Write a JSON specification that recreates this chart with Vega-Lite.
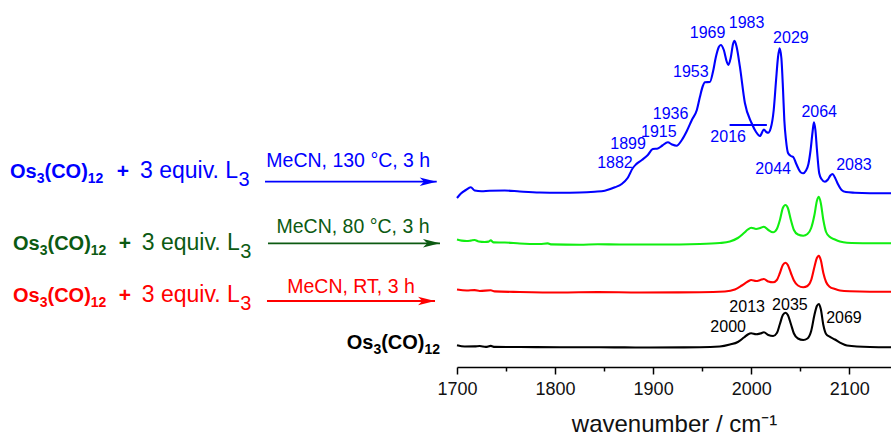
{
  "$schema": "https://vega.github.io/schema/vega-lite/v6.json",
  "description": "IR carbonyl spectra of Os3(CO)12 and its reactions with 3 equiv. L3 in MeCN, stacked with vertical offsets, with the reaction schemes to the left.",
  "padding": 0,
  "spacing": 0,
  "bounds": "flush",
  "background": "white",
  "config": {"view": {"stroke": null}, "font": "Liberation Sans"},
  "resolve": {"scale": {"x": "independent", "y": "independent", "color": "independent"}},
  "datasets": {
    "formulas": [
      {"scheme": "130C", "pos": 2.19, "level": 1.887},
      {"scheme": "80C", "pos": 2.84, "level": 1.17},
      {"scheme": "RT", "pos": 2.84, "level": 0.653},
      {"scheme": "ref", "pos": 75.86, "level": 0.177}
    ],
    "reagents": [
      {"scheme": "130C", "plus": 26.91, "reagent": 30.63, "level": 1.887},
      {"scheme": "80C", "plus": 27.35, "reagent": 31.01, "level": 1.17},
      {"scheme": "RT", "plus": 27.35, "reagent": 31.01, "level": 0.653}
    ],
    "conditions": [
      {"scheme": "130C", "pos": 76.21, "level": 1.997, "text": "MeCN, 130 °C, 3 h"},
      {"scheme": "80C", "pos": 77.24, "level": 1.337, "text": "MeCN, 80 °C, 3 h"},
      {"scheme": "RT", "pos": 76.81, "level": 0.737, "text": "MeCN, RT, 3 h"}
    ],
    "arrows": [
      {"scheme": "130C", "start": 57.99, "end": 95.56, "level": 1.853},
      {"scheme": "80C", "start": 58.64, "end": 96.28, "level": 1.237},
      {"scheme": "RT", "start": 58.42, "end": 95.19, "level": 0.66}
    ],
    "spectra": [
      {"series": "130C", "wavenumber": 1700, "signal": 1.69},
      {"series": "130C", "wavenumber": 1704, "signal": 1.735},
      {"series": "130C", "wavenumber": 1709, "signal": 1.77},
      {"series": "130C", "wavenumber": 1714, "signal": 1.797},
      {"series": "130C", "wavenumber": 1718, "signal": 1.765},
      {"series": "130C", "wavenumber": 1725, "signal": 1.757},
      {"series": "130C", "wavenumber": 1733.4, "signal": 1.763},
      {"series": "130C", "wavenumber": 1748.7, "signal": 1.765},
      {"series": "130C", "wavenumber": 1764, "signal": 1.755},
      {"series": "130C", "wavenumber": 1784.4, "signal": 1.745},
      {"series": "130C", "wavenumber": 1804.8, "signal": 1.743},
      {"series": "130C", "wavenumber": 1825.2, "signal": 1.745},
      {"series": "130C", "wavenumber": 1840.5, "signal": 1.753},
      {"series": "130C", "wavenumber": 1850.7, "signal": 1.763},
      {"series": "130C", "wavenumber": 1861, "signal": 1.797},
      {"series": "130C", "wavenumber": 1868, "signal": 1.83},
      {"series": "130C", "wavenumber": 1874, "signal": 1.89},
      {"series": "130C", "wavenumber": 1879.3, "signal": 1.99},
      {"series": "130C", "wavenumber": 1882.4, "signal": 2.025},
      {"series": "130C", "wavenumber": 1888.5, "signal": 2.07},
      {"series": "130C", "wavenumber": 1894.6, "signal": 2.12},
      {"series": "130C", "wavenumber": 1899.7, "signal": 2.18},
      {"series": "130C", "wavenumber": 1904.8, "signal": 2.185},
      {"series": "130C", "wavenumber": 1909.4, "signal": 2.215},
      {"series": "130C", "wavenumber": 1915, "signal": 2.247},
      {"series": "130C", "wavenumber": 1919.3, "signal": 2.225},
      {"series": "130C", "wavenumber": 1923.9, "signal": 2.213},
      {"series": "130C", "wavenumber": 1929.3, "signal": 2.27},
      {"series": "130C", "wavenumber": 1934.4, "signal": 2.36},
      {"series": "130C", "wavenumber": 1939.5, "signal": 2.47},
      {"series": "130C", "wavenumber": 1944.6, "signal": 2.57},
      {"series": "130C", "wavenumber": 1947.7, "signal": 2.7},
      {"series": "130C", "wavenumber": 1950.7, "signal": 2.81},
      {"series": "130C", "wavenumber": 1952.8, "signal": 2.847},
      {"series": "130C", "wavenumber": 1957.9, "signal": 2.85},
      {"series": "130C", "wavenumber": 1961, "signal": 2.95},
      {"series": "130C", "wavenumber": 1964, "signal": 3.1},
      {"series": "130C", "wavenumber": 1967, "signal": 3.2},
      {"series": "130C", "wavenumber": 1969, "signal": 3.22},
      {"series": "130C", "wavenumber": 1972.1, "signal": 3.17},
      {"series": "130C", "wavenumber": 1975.2, "signal": 3.05},
      {"series": "130C", "wavenumber": 1976.7, "signal": 3.02},
      {"series": "130C", "wavenumber": 1979.1, "signal": 3.09},
      {"series": "130C", "wavenumber": 1981.5, "signal": 3.23},
      {"series": "130C", "wavenumber": 1983, "signal": 3.263},
      {"series": "130C", "wavenumber": 1985.2, "signal": 3.2},
      {"series": "130C", "wavenumber": 1988.5, "signal": 3.003},
      {"series": "130C", "wavenumber": 1993.6, "signal": 2.64},
      {"series": "130C", "wavenumber": 2000.4, "signal": 2.44},
      {"series": "130C", "wavenumber": 2005, "signal": 2.35},
      {"series": "130C", "wavenumber": 2008.9, "signal": 2.31},
      {"series": "130C", "wavenumber": 2013, "signal": 2.375},
      {"series": "130C", "wavenumber": 2015.5, "signal": 2.35},
      {"series": "130C", "wavenumber": 2017.3, "signal": 2.343},
      {"series": "130C", "wavenumber": 2020, "signal": 2.39},
      {"series": "130C", "wavenumber": 2023, "signal": 2.57},
      {"series": "130C", "wavenumber": 2025.4, "signal": 2.87},
      {"series": "130C", "wavenumber": 2027.4, "signal": 3.1},
      {"series": "130C", "wavenumber": 2029, "signal": 3.187},
      {"series": "130C", "wavenumber": 2030.8, "signal": 3.09},
      {"series": "130C", "wavenumber": 2032.5, "signal": 2.77},
      {"series": "130C", "wavenumber": 2033.8, "signal": 2.47},
      {"series": "130C", "wavenumber": 2035.5, "signal": 2.27},
      {"series": "130C", "wavenumber": 2037.6, "signal": 2.14},
      {"series": "130C", "wavenumber": 2040.5, "signal": 2.11},
      {"series": "130C", "wavenumber": 2042.9, "signal": 2.1},
      {"series": "130C", "wavenumber": 2045.6, "signal": 2.04},
      {"series": "130C", "wavenumber": 2048, "signal": 1.987},
      {"series": "130C", "wavenumber": 2050.7, "signal": 1.945},
      {"series": "130C", "wavenumber": 2053.1, "signal": 1.937},
      {"series": "130C", "wavenumber": 2055.6, "signal": 1.96},
      {"series": "130C", "wavenumber": 2058.4, "signal": 2.03},
      {"series": "130C", "wavenumber": 2060.6, "signal": 2.17},
      {"series": "130C", "wavenumber": 2062.6, "signal": 2.35},
      {"series": "130C", "wavenumber": 2064, "signal": 2.447},
      {"series": "130C", "wavenumber": 2065.5, "signal": 2.37},
      {"series": "130C", "wavenumber": 2067.1, "signal": 2.17},
      {"series": "130C", "wavenumber": 2069.4, "signal": 1.937},
      {"series": "130C", "wavenumber": 2071.7, "signal": 1.88},
      {"series": "130C", "wavenumber": 2075.2, "signal": 1.853},
      {"series": "130C", "wavenumber": 2078.3, "signal": 1.875},
      {"series": "130C", "wavenumber": 2080.8, "signal": 1.915},
      {"series": "130C", "wavenumber": 2083, "signal": 1.93},
      {"series": "130C", "wavenumber": 2085.4, "signal": 1.895},
      {"series": "130C", "wavenumber": 2088.4, "signal": 1.83},
      {"series": "130C", "wavenumber": 2092.2, "signal": 1.77},
      {"series": "130C", "wavenumber": 2096.6, "signal": 1.75},
      {"series": "130C", "wavenumber": 2105.8, "signal": 1.743},
      {"series": "130C", "wavenumber": 2121.1, "signal": 1.738},
      {"series": "130C", "wavenumber": 2142.6, "signal": 1.737},

      {"series": "80C", "wavenumber": 1700, "signal": 1.275},
      {"series": "80C", "wavenumber": 1704.8, "signal": 1.264},
      {"series": "80C", "wavenumber": 1709.9, "signal": 1.26},
      {"series": "80C", "wavenumber": 1714, "signal": 1.264},
      {"series": "80C", "wavenumber": 1718, "signal": 1.27},
      {"series": "80C", "wavenumber": 1722.1, "signal": 1.255},
      {"series": "80C", "wavenumber": 1728.3, "signal": 1.25},
      {"series": "80C", "wavenumber": 1732.3, "signal": 1.254},
      {"series": "80C", "wavenumber": 1734.4, "signal": 1.266},
      {"series": "80C", "wavenumber": 1737.4, "signal": 1.246},
      {"series": "80C", "wavenumber": 1748.7, "signal": 1.245},
      {"series": "80C", "wavenumber": 1764, "signal": 1.235},
      {"series": "80C", "wavenumber": 1784.4, "signal": 1.23},
      {"series": "80C", "wavenumber": 1792.5, "signal": 1.236},
      {"series": "80C", "wavenumber": 1796.6, "signal": 1.226},
      {"series": "80C", "wavenumber": 1825.2, "signal": 1.222},
      {"series": "80C", "wavenumber": 1843.6, "signal": 1.228},
      {"series": "80C", "wavenumber": 1866, "signal": 1.225},
      {"series": "80C", "wavenumber": 1906.8, "signal": 1.225},
      {"series": "80C", "wavenumber": 1947.7, "signal": 1.23},
      {"series": "80C", "wavenumber": 1968, "signal": 1.24},
      {"series": "80C", "wavenumber": 1978.3, "signal": 1.255},
      {"series": "80C", "wavenumber": 1986.4, "signal": 1.29},
      {"series": "80C", "wavenumber": 1992.6, "signal": 1.34},
      {"series": "80C", "wavenumber": 1996.6, "signal": 1.375},
      {"series": "80C", "wavenumber": 2000, "signal": 1.393},
      {"series": "80C", "wavenumber": 2005, "signal": 1.38},
      {"series": "80C", "wavenumber": 2009.3, "signal": 1.39},
      {"series": "80C", "wavenumber": 2013, "signal": 1.403},
      {"series": "80C", "wavenumber": 2017.5, "signal": 1.37},
      {"series": "80C", "wavenumber": 2022.4, "signal": 1.347},
      {"series": "80C", "wavenumber": 2026.2, "signal": 1.38},
      {"series": "80C", "wavenumber": 2029.3, "signal": 1.47},
      {"series": "80C", "wavenumber": 2032.3, "signal": 1.59},
      {"series": "80C", "wavenumber": 2035, "signal": 1.62},
      {"series": "80C", "wavenumber": 2037.4, "signal": 1.59},
      {"series": "80C", "wavenumber": 2040.5, "signal": 1.47},
      {"series": "80C", "wavenumber": 2043.6, "signal": 1.37},
      {"series": "80C", "wavenumber": 2047.7, "signal": 1.325},
      {"series": "80C", "wavenumber": 2053.1, "signal": 1.313},
      {"series": "80C", "wavenumber": 2057.4, "signal": 1.33},
      {"series": "80C", "wavenumber": 2061.2, "signal": 1.39},
      {"series": "80C", "wavenumber": 2064.5, "signal": 1.52},
      {"series": "80C", "wavenumber": 2067, "signal": 1.66},
      {"series": "80C", "wavenumber": 2069, "signal": 1.703},
      {"series": "80C", "wavenumber": 2071, "signal": 1.64},
      {"series": "80C", "wavenumber": 2073.6, "signal": 1.47},
      {"series": "80C", "wavenumber": 2076.4, "signal": 1.35},
      {"series": "80C", "wavenumber": 2080, "signal": 1.303},
      {"series": "80C", "wavenumber": 2085.4, "signal": 1.275},
      {"series": "80C", "wavenumber": 2090.5, "signal": 1.255},
      {"series": "80C", "wavenumber": 2097.7, "signal": 1.243},
      {"series": "80C", "wavenumber": 2121.1, "signal": 1.238},
      {"series": "80C", "wavenumber": 2142.6, "signal": 1.237},

      {"series": "RT", "wavenumber": 1700, "signal": 0.775},
      {"series": "RT", "wavenumber": 1709.9, "signal": 0.765},
      {"series": "RT", "wavenumber": 1718, "signal": 0.769},
      {"series": "RT", "wavenumber": 1723.2, "signal": 0.76},
      {"series": "RT", "wavenumber": 1734.4, "signal": 0.767},
      {"series": "RT", "wavenumber": 1738.4, "signal": 0.756},
      {"series": "RT", "wavenumber": 1764, "signal": 0.75},
      {"series": "RT", "wavenumber": 1804.8, "signal": 0.745},
      {"series": "RT", "wavenumber": 1843.6, "signal": 0.749},
      {"series": "RT", "wavenumber": 1886.4, "signal": 0.745},
      {"series": "RT", "wavenumber": 1947.7, "signal": 0.747},
      {"series": "RT", "wavenumber": 1973.2, "signal": 0.755},
      {"series": "RT", "wavenumber": 1983.4, "signal": 0.775},
      {"series": "RT", "wavenumber": 1990.5, "signal": 0.815},
      {"series": "RT", "wavenumber": 1996.6, "signal": 0.855},
      {"series": "RT", "wavenumber": 2000, "signal": 0.87},
      {"series": "RT", "wavenumber": 2005, "signal": 0.86},
      {"series": "RT", "wavenumber": 2009.3, "signal": 0.87},
      {"series": "RT", "wavenumber": 2013, "signal": 0.88},
      {"series": "RT", "wavenumber": 2017.5, "signal": 0.855},
      {"series": "RT", "wavenumber": 2022.4, "signal": 0.847},
      {"series": "RT", "wavenumber": 2026.2, "signal": 0.87},
      {"series": "RT", "wavenumber": 2029.3, "signal": 0.94},
      {"series": "RT", "wavenumber": 2032.3, "signal": 1.02},
      {"series": "RT", "wavenumber": 2035, "signal": 1.043},
      {"series": "RT", "wavenumber": 2037.4, "signal": 1.02},
      {"series": "RT", "wavenumber": 2040.5, "signal": 0.94},
      {"series": "RT", "wavenumber": 2043.6, "signal": 0.865},
      {"series": "RT", "wavenumber": 2047.7, "signal": 0.815},
      {"series": "RT", "wavenumber": 2053.1, "signal": 0.797},
      {"series": "RT", "wavenumber": 2057.4, "signal": 0.81},
      {"series": "RT", "wavenumber": 2061.2, "signal": 0.87},
      {"series": "RT", "wavenumber": 2064.5, "signal": 1.0},
      {"series": "RT", "wavenumber": 2067, "signal": 1.09},
      {"series": "RT", "wavenumber": 2069, "signal": 1.113},
      {"series": "RT", "wavenumber": 2071, "signal": 1.07},
      {"series": "RT", "wavenumber": 2073.6, "signal": 0.94},
      {"series": "RT", "wavenumber": 2076.4, "signal": 0.85},
      {"series": "RT", "wavenumber": 2080, "signal": 0.803},
      {"series": "RT", "wavenumber": 2085.4, "signal": 0.78},
      {"series": "RT", "wavenumber": 2090.5, "signal": 0.765},
      {"series": "RT", "wavenumber": 2100.7, "signal": 0.757},
      {"series": "RT", "wavenumber": 2121.1, "signal": 0.753},
      {"series": "RT", "wavenumber": 2142.6, "signal": 0.753},

      {"series": "ref", "wavenumber": 1700, "signal": 0.218},
      {"series": "ref", "wavenumber": 1707.9, "signal": 0.205},
      {"series": "ref", "wavenumber": 1718, "signal": 0.206},
      {"series": "ref", "wavenumber": 1723.2, "signal": 0.21},
      {"series": "ref", "wavenumber": 1729.3, "signal": 0.201},
      {"series": "ref", "wavenumber": 1734.4, "signal": 0.211},
      {"series": "ref", "wavenumber": 1738.4, "signal": 0.201},
      {"series": "ref", "wavenumber": 1764, "signal": 0.2},
      {"series": "ref", "wavenumber": 1804.8, "signal": 0.197},
      {"series": "ref", "wavenumber": 1845.6, "signal": 0.197},
      {"series": "ref", "wavenumber": 1896.6, "signal": 0.195},
      {"series": "ref", "wavenumber": 1947.7, "signal": 0.197},
      {"series": "ref", "wavenumber": 1968, "signal": 0.205},
      {"series": "ref", "wavenumber": 1978.3, "signal": 0.225},
      {"series": "ref", "wavenumber": 1986.4, "signal": 0.25},
      {"series": "ref", "wavenumber": 1992.6, "signal": 0.295},
      {"series": "ref", "wavenumber": 1996.6, "signal": 0.325},
      {"series": "ref", "wavenumber": 2000, "signal": 0.337},
      {"series": "ref", "wavenumber": 2005, "signal": 0.327},
      {"series": "ref", "wavenumber": 2009.3, "signal": 0.335},
      {"series": "ref", "wavenumber": 2013, "signal": 0.347},
      {"series": "ref", "wavenumber": 2017.5, "signal": 0.32},
      {"series": "ref", "wavenumber": 2022.4, "signal": 0.31},
      {"series": "ref", "wavenumber": 2026.2, "signal": 0.34},
      {"series": "ref", "wavenumber": 2029.3, "signal": 0.43},
      {"series": "ref", "wavenumber": 2032.3, "signal": 0.52},
      {"series": "ref", "wavenumber": 2035, "signal": 0.543},
      {"series": "ref", "wavenumber": 2037.4, "signal": 0.52},
      {"series": "ref", "wavenumber": 2040.5, "signal": 0.43},
      {"series": "ref", "wavenumber": 2043.6, "signal": 0.335},
      {"series": "ref", "wavenumber": 2047.7, "signal": 0.285},
      {"series": "ref", "wavenumber": 2053.1, "signal": 0.27},
      {"series": "ref", "wavenumber": 2057.4, "signal": 0.285},
      {"series": "ref", "wavenumber": 2061.2, "signal": 0.36},
      {"series": "ref", "wavenumber": 2064.5, "signal": 0.52},
      {"series": "ref", "wavenumber": 2067, "signal": 0.61},
      {"series": "ref", "wavenumber": 2069, "signal": 0.63},
      {"series": "ref", "wavenumber": 2071, "signal": 0.58},
      {"series": "ref", "wavenumber": 2073.6, "signal": 0.42},
      {"series": "ref", "wavenumber": 2076.4, "signal": 0.33},
      {"series": "ref", "wavenumber": 2080, "signal": 0.303},
      {"series": "ref", "wavenumber": 2085.4, "signal": 0.275},
      {"series": "ref", "wavenumber": 2090.5, "signal": 0.243},
      {"series": "ref", "wavenumber": 2097.7, "signal": 0.215},
      {"series": "ref", "wavenumber": 2121.1, "signal": 0.2},
      {"series": "ref", "wavenumber": 2142.6, "signal": 0.197}
    ],
    "peaks": [
      {"series": "130C", "peak": 1882, "label_x": 1861.1, "label_y": 2.037},
      {"series": "130C", "peak": 1899, "label_x": 1874.5, "label_y": 2.227},
      {"series": "130C", "peak": 1915, "label_x": 1905.8, "label_y": 2.353},
      {"series": "130C", "peak": 1936, "label_x": 1917.8, "label_y": 2.53},
      {"series": "130C", "peak": 1953, "label_x": 1938.5, "label_y": 2.953},
      {"series": "130C", "peak": 1969, "label_x": 1955.5, "label_y": 3.337},
      {"series": "130C", "peak": 1983, "label_x": 1995.3, "label_y": 3.443},
      {"series": "130C", "peak": 2016, "label_x": 1976.5, "label_y": 2.303},
      {"series": "130C", "peak": 2029, "label_x": 2040.5, "label_y": 3.287},
      {"series": "130C", "peak": 2044, "label_x": 2022.4, "label_y": 1.977},
      {"series": "130C", "peak": 2064, "label_x": 2069.4, "label_y": 2.553},
      {"series": "130C", "peak": 2083, "label_x": 2104.8, "label_y": 2.02},
      {"series": "ref", "peak": 2000, "label_x": 1976.5, "label_y": 0.403},
      {"series": "ref", "peak": 2013, "label_x": 1995.9, "label_y": 0.603},
      {"series": "ref", "peak": 2035, "label_x": 2039.5, "label_y": 0.62},
      {"series": "ref", "peak": 2069, "label_x": 2094.6, "label_y": 0.487}
    ],
    "leaders": [
      {"series": "130C", "from": 1978, "to": 2016, "signal": 2.42}
    ]
  },
  "hconcat": [
    {
      "width": 457,
      "height": 367,
      "layer": [
        {
          "data": {"name": "formulas"},
          "mark": {"type": "text", "text": "Os", "fontSize": 20, "fontWeight": "bold", "align": "left", "baseline": "alphabetic"},
          "encoding": {
            "x": {"field": "pos", "type": "quantitative", "scale": {"domain": [0, 100], "nice": false, "zero": false}, "axis": null},
            "y": {"field": "level", "type": "quantitative", "scale": {"domain": [0, 3.67], "nice": false, "zero": false}, "axis": null},
            "color": {"field": "scheme", "type": "nominal", "scale": {"domain": ["130C", "80C", "RT", "ref"], "range": ["#0000ff", "#0c5a12", "#ff0000", "#000000"]}, "legend": null}
          }
        },
        {
          "data": {"name": "formulas"},
          "mark": {"type": "text", "text": "3", "fontSize": 14, "fontWeight": "bold", "align": "left", "baseline": "alphabetic", "dx": 26.7, "dy": 5},
          "encoding": {
            "x": {"field": "pos", "type": "quantitative"},
            "y": {"field": "level", "type": "quantitative"},
            "color": {"field": "scheme", "type": "nominal", "legend": null}
          }
        },
        {
          "data": {"name": "formulas"},
          "mark": {"type": "text", "text": "(CO)", "fontSize": 20, "fontWeight": "bold", "align": "left", "baseline": "alphabetic", "dx": 34.5},
          "encoding": {
            "x": {"field": "pos", "type": "quantitative"},
            "y": {"field": "level", "type": "quantitative"},
            "color": {"field": "scheme", "type": "nominal", "legend": null}
          }
        },
        {
          "data": {"name": "formulas"},
          "mark": {"type": "text", "text": "12", "fontSize": 14, "fontWeight": "bold", "align": "left", "baseline": "alphabetic", "dx": 77.8, "dy": 5},
          "encoding": {
            "x": {"field": "pos", "type": "quantitative"},
            "y": {"field": "level", "type": "quantitative"},
            "color": {"field": "scheme", "type": "nominal", "legend": null}
          }
        },
        {
          "data": {"name": "reagents"},
          "mark": {"type": "text", "text": "+", "fontSize": 21, "fontWeight": "bold", "align": "center", "baseline": "alphabetic"},
          "encoding": {
            "x": {"field": "plus", "type": "quantitative"},
            "y": {"field": "level", "type": "quantitative"},
            "color": {"field": "scheme", "type": "nominal", "legend": null}
          }
        },
        {
          "data": {"name": "reagents"},
          "mark": {"type": "text", "text": "3 equiv. L", "fontSize": 23, "align": "left", "baseline": "alphabetic"},
          "encoding": {
            "x": {"field": "reagent", "type": "quantitative"},
            "y": {"field": "level", "type": "quantitative"},
            "color": {"field": "scheme", "type": "nominal", "legend": null}
          }
        },
        {
          "data": {"name": "reagents"},
          "mark": {"type": "text", "text": "3", "fontSize": 20, "align": "left", "baseline": "alphabetic", "dx": 98.5, "dy": 8},
          "encoding": {
            "x": {"field": "reagent", "type": "quantitative"},
            "y": {"field": "level", "type": "quantitative"},
            "color": {"field": "scheme", "type": "nominal", "legend": null}
          }
        },
        {
          "data": {"name": "conditions"},
          "mark": {"type": "text", "fontSize": 19.5, "align": "center", "baseline": "alphabetic"},
          "encoding": {
            "x": {"field": "pos", "type": "quantitative"},
            "y": {"field": "level", "type": "quantitative"},
            "text": {"field": "text", "type": "nominal"},
            "color": {"field": "scheme", "type": "nominal", "legend": null}
          }
        },
        {
          "data": {"name": "arrows"},
          "mark": {"type": "rule", "strokeWidth": 1.8},
          "encoding": {
            "x": {"field": "start", "type": "quantitative"},
            "x2": {"field": "end"},
            "y": {"field": "level", "type": "quantitative"},
            "color": {"field": "scheme", "type": "nominal", "legend": null}
          }
        },
        {
          "data": {"name": "arrows"},
          "mark": {"type": "point", "shape": "M 0 0 L -2 -0.5 L -1.5 0 L -2 0.5 Z", "size": 289, "filled": true, "opacity": 1, "strokeWidth": 0},
          "encoding": {
            "x": {"field": "end", "type": "quantitative"},
            "y": {"field": "level", "type": "quantitative"},
            "color": {"field": "scheme", "type": "nominal", "legend": null}
          }
        }
      ]
    },
    {
      "width": 434,
      "height": 367,
      "layer": [
        {
          "data": {"name": "spectra"},
          "mark": {"type": "line", "strokeWidth": 2.1, "interpolate": "monotone"},
          "encoding": {
            "x": {
              "field": "wavenumber",
              "type": "quantitative",
              "scale": {"domain": [1700, 2142.6], "nice": false, "zero": false},
              "axis": {
                "values": [1700, 1750, 1800, 1850, 1900, 1950, 2000, 2050, 2100],
                "format": "d",
                "labelExpr": "datum.value % 100 === 0 ? datum.label : ''",
                "title": "wavenumber / cm⁻¹",
                "grid": false,
                "domainColor": "#000000",
                "domainWidth": 1.5,
                "tickColor": "#000000",
                "tickWidth": 1.5,
                "tickSize": {"condition": {"test": "datum.value % 100 !== 0", "value": 4}, "value": 7},
                "labelFlush": false,
                "labelFont": "Liberation Sans",
                "labelFontSize": 18,
                "labelColor": "#111111",
                "labelPadding": 6,
                "titleFont": "Liberation Sans",
                "titleFontSize": 24,
                "titleFontWeight": "normal",
                "titleColor": "#111111",
                "titlePadding": 14
              }
            },
            "y": {"field": "signal", "type": "quantitative", "scale": {"domain": [0, 3.67], "nice": false, "zero": false}, "axis": null},
            "color": {"field": "series", "type": "nominal", "scale": {"domain": ["130C", "80C", "RT", "ref"], "range": ["#0000ff", "#11ee11", "#ff0000", "#000000"]}, "legend": null}
          }
        },
        {
          "data": {"name": "leaders"},
          "mark": {"type": "rule", "strokeWidth": 2},
          "encoding": {
            "x": {"field": "from", "type": "quantitative"},
            "x2": {"field": "to"},
            "y": {"field": "signal", "type": "quantitative"},
            "color": {"field": "series", "type": "nominal", "legend": null}
          }
        },
        {
          "data": {"name": "peaks"},
          "mark": {"type": "text", "fontSize": 16, "align": "center", "baseline": "middle"},
          "encoding": {
            "x": {"field": "label_x", "type": "quantitative"},
            "y": {"field": "label_y", "type": "quantitative"},
            "text": {"field": "peak", "type": "quantitative", "format": "d"},
            "color": {"field": "series", "type": "nominal", "legend": null}
          }
        }
      ]
    }
  ]
}
